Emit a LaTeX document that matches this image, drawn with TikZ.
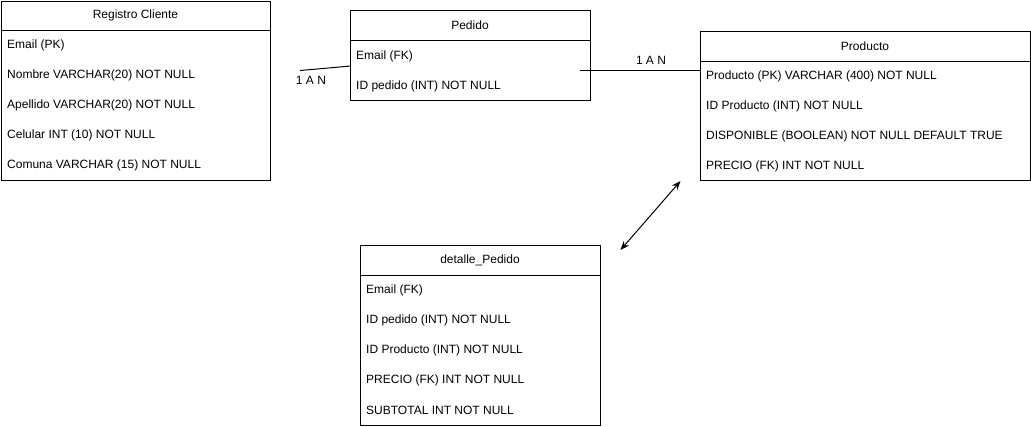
\documentclass[tikz,border=0pt]{standalone}
\usepackage{fontspec}
\setmainfont{Liberation Sans}
\usetikzlibrary{arrows.meta,positioning,calc}

\begin{document}
\begin{tikzpicture}[
    x=1pt, y=-1pt,
    font=\fontsize{12}{14}\selectfont,
    head/.style={rectangle, draw=black, line width=1pt, minimum height=30pt, inner sep=0pt, outer sep=0pt, anchor=north west},
    body/.style={rectangle, draw=black, line width=1pt, inner sep=0pt, outer sep=0pt, anchor=north},
    row/.style={anchor=west, inner sep=0pt},
    link/.style={line width=1pt, draw=black},
    dblarrow/.style={{Stealth[length=9pt,width=7pt]}-{Stealth[length=9pt,width=7pt]}, line width=1pt, draw=black}
  ]
    \useasboundingbox (0,0) rectangle (1031,426);
    % Registro Cliente
    \node[head, minimum width=269pt, minimum height=29pt] (cli) at (1,1) {Registro Cliente};
    \node[body, minimum width=269pt, minimum height=150pt] (clibody) at (cli.south) {};
    \foreach \t [count=\i] in {Email (PK), Nombre VARCHAR(20) NOT NULL, Apellido VARCHAR(20) NOT NULL, Celular INT (10) NOT NULL, Comuna VARCHAR (15) NOT NULL}
      \node[row] (cli\i) at ($(clibody.north west)+(6,{30*\i-15})$) {\t};
    % Pedido
    \node[head, minimum width=240pt] (ped) at (350,10) {Pedido};
    \node[body, minimum width=240pt, minimum height=60pt] (pedbody) at (ped.south) {};
    \foreach \t [count=\i] in {Email (FK), ID pedido (INT) NOT NULL}
      \node[row] (ped\i) at ($(pedbody.north west)+(6,{30*\i-14})$) {\t};
    % Producto
    \node[head, minimum width=330pt] (prod) at (700,31) {Producto};
    \node[body, minimum width=330pt, minimum height=119pt] (prodbody) at (prod.south) {};
    \foreach \t [count=\i] in {Producto (PK) VARCHAR (400) NOT NULL, ID Producto (INT) NOT NULL, DISPONIBLE (BOOLEAN) NOT NULL DEFAULT TRUE, PRECIO (FK) INT NOT NULL}
      \node[row] (prod\i) at ($(prodbody.north west)+(6,{30*\i-15})$) {\t};
    % detalle_Pedido
    \node[head, minimum width=240pt] (det) at (360,245) {detalle\_Pedido};
    \node[body, minimum width=240pt, minimum height=150pt] (detbody) at (det.south) {};
    \foreach \t [count=\i] in {Email (FK), ID pedido (INT) NOT NULL, ID Producto (INT) NOT NULL, PRECIO (FK) INT NOT NULL, SUBTOTAL INT NOT NULL}
      \node[row] (det\i) at ($(detbody.north west)+(6,{30*\i-15})$) {\t};
    % connectors
    \coordinate (cliend) at (300,70.5);
    \coordinate (pedstart) at (580,70);
    \coordinate (arrtop) at (680.5,181);
    \coordinate (arrbot) at (620.5,250);
    \draw[link] ($(pedbody.west)+(1,-4)$) -- (cliend);
    \node (lblcli) at (311,80) {1 A N};
    \draw[link] (pedstart) -- (prodbody.west |- pedstart);
    \node (lblprod) at (651,60) {1 A N};
    \draw[dblarrow] (arrbot) -- (arrtop);
  \end{tikzpicture}
\end{document}
